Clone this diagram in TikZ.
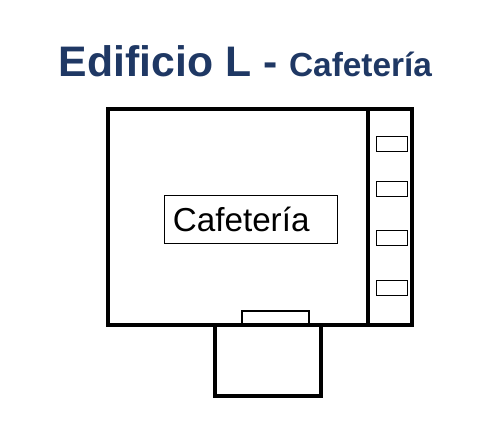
\documentclass[tikz,border=0pt]{standalone}
\usepackage{fontspec}
\setmainfont{Liberation Sans}
\usepackage{xcolor}
\definecolor{titleblue}{HTML}{1F3864}

\begin{document}
\begin{tikzpicture}[every node/.style={inner sep=0pt,outer sep=0pt},
wall/.style={draw,line width=2.4pt,minimum width=#1},
stall/.style={draw,line width=0.57pt,minimum width=0.62cm,minimum height=0.3cm},
doorway/.style={draw,line width=1.14pt,minimum width=1.334cm,minimum height=0.268cm}]
\useasboundingbox (0,0) rectangle (10.04,8.72);
\node(title) at (1.18,7.18)[anchor=base west,text=titleblue,font=\fontsize{24.3}{28}\selectfont\bfseries]{Edificio L - {\fontsize{19}{22}\selectfont Cafetería}};
\node(hall)[wall=5.194cm,minimum height=4.308cm] at (4.763,4.38){};
\node(aisle)[wall=0.88cm,minimum height=4.308cm] at (7.8,4.38){};
\node(annex)[wall=2.114cm,minimum height=1.426cm] at (5.363,1.513){};
\node(door)[doorway] at (5.507,2.36){};
\node(s1)[stall] at (7.84,5.84){};\node(s2)[stall] at (7.84,4.94){};
\node(s3)[stall] at (7.84,3.96){};\node(s4)[stall] at (7.84,2.96){};
\node(label)[draw,line width=0.57pt,text width=3.118cm,inner xsep=0.168cm,minimum height=0.954cm,align=left,font=\fontsize{18.9}{22}\selectfont] at (5.017,4.333){Cafetería};
\end{tikzpicture}
\end{document}
